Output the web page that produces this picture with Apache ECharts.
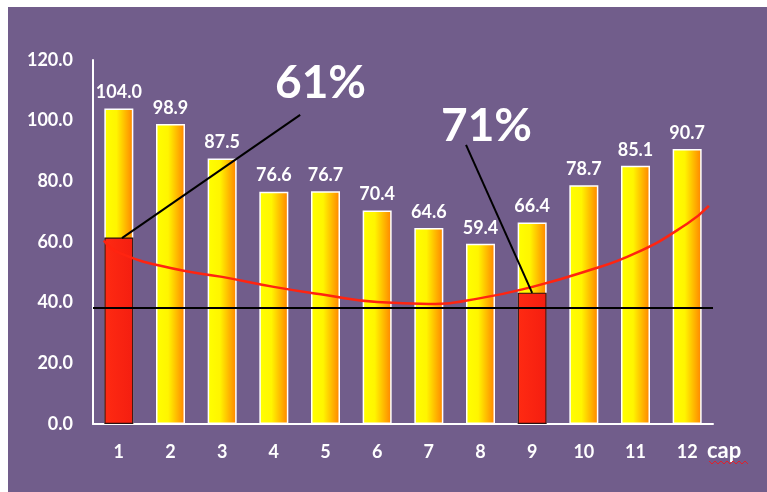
<!DOCTYPE html>
<html>
<head>
<meta charset="utf-8">
<script src="https://cdn.jsdelivr.net/npm/echarts@6/dist/echarts.min.js"></script>
<style>
  html, body { margin: 0; padding: 0; background: #ffffff; }
  #panel { position: absolute; left: 8px; top: 7px; width: 759px; height: 485px; background: #715d8b; }
  #chart { position: absolute; left: 0; top: 0; width: 767px; height: 492px; }
</style>
</head>
<body>
<div id="panel"></div>
<div id="chart"></div>
<script>
// Monthly values (months 1..12)
const months = ['1', '2', '3', '4', '5', '6', '7', '8', '9', '10', '11', '12'];
const monthValues = [104.0, 98.9, 87.5, 76.6, 76.7, 70.4, 64.6, 59.4, 66.4, 78.7, 85.1, 90.7];
// Highlighted months (1 and 9)
const highlightValues = [61.5, null, null, null, null, null, null, null, 43.3, null, null, null];
// Trend curve, x in month units
const trendX = [0.71, 1, 2, 3, 4, 5, 6, 7, 8, 9, 10, 11, 12, 12.42];
const trendY = [60.5, 56.5, 51.4, 48.5, 45.2, 42.5, 40.2, 39.6, 41.5, 45.2, 50.1, 56.3, 66.0, 71.9];
// Reference level
const baseLevel = 38.4;
// Callouts: label text and pointer from label to bar
const calloutText = ['61%', '71%'];
const calloutA = [[4.51, 101.9], [1.06, 61.3]];
const calloutB = [[7.72, 92.0], [9.0, 43.2]];
const yTicks = { min: 0, max: 120, step: 20 };

const FONT = 'Lato';
const chart = echarts.init(document.getElementById('chart'), null, { renderer: 'canvas' });

const yellowFill = new echarts.graphic.LinearGradient(0, 0, 1, 0, [
  { offset: 0, color: '#ffff00' },
  { offset: 0.42, color: '#fff500' },
  { offset: 1, color: '#ff8200' }
]);
const redFill = new echarts.graphic.LinearGradient(0, 0, 1, 0, [
  { offset: 0, color: '#ff2a12' },
  { offset: 1, color: '#f41e10' }
]);

function pairs(xs, ys) { return xs.map((x, i) => [x, ys[i]]); }

chart.setOption({
  backgroundColor: 'transparent',
  animation: false,
  grid: { left: 93, right: 54, top: 60, bottom: 68 },
  xAxis: [
    {
      type: 'category',
      data: months,
      axisLine: { show: true, lineStyle: { color: '#ffffff', width: 2 } },
      axisTick: { show: false },
      axisLabel: { color: '#ffffff', fontFamily: FONT, fontWeight: 'bold', fontSize: 18, margin: 19 },
      name: 'cap',
      nameLocation: 'end',
      nameGap: -6,
      nameTextStyle: { color: '#ffffff', fontFamily: FONT, fontWeight: 'bold', fontSize: 22,
                       verticalAlign: 'top', align: 'left', padding: [16, 0, 0, 0] }
    },
    { type: 'value', min: 0.5, max: 12.5, show: false }
  ],
  yAxis: {
    type: 'value',
    min: yTicks.min, max: yTicks.max, interval: yTicks.step,
    axisLine: { show: true, lineStyle: { color: '#ffffff', width: 2 } },
    axisTick: { show: false },
    splitLine: { show: false },
    axisLabel: { color: '#ffffff', fontFamily: FONT, fontWeight: 'bold', fontSize: 18, margin: 20,
                 formatter: v => v.toFixed(1) }
  },
  series: [
    {
      type: 'bar',
      data: monthValues,
      barWidth: 29,
      itemStyle: { color: yellowFill, borderColor: '#ffffff', borderWidth: 1.5 },
      label: { show: true, position: 'top', distance: 7, color: '#ffffff', fontFamily: FONT,
               fontWeight: 'bold', fontSize: 18, formatter: p => p.value.toFixed(1) },
      markLine: {
        silent: true, symbol: 'none', label: { show: false },
        lineStyle: { color: '#000000', width: 2, type: 'solid' },
        data: [{ yAxis: baseLevel }]
      },
      z: 2
    },
    {
      type: 'bar',
      data: highlightValues,
      barWidth: 29,
      barGap: '-100%',
      itemStyle: { color: redFill, borderColor: '#2a1010', borderWidth: 1.2 },
      z: 3
    },
    {
      type: 'line',
      xAxisIndex: 1,
      data: pairs(trendX, trendY),
      smooth: 0.5,
      symbol: 'none',
      lineStyle: { color: '#ff2410', width: 2.5 },
      z: 4
    },
    {
      type: 'line',
      xAxisIndex: 1,
      data: calloutA,
      symbol: 'none',
      lineStyle: { color: '#000000', width: 2 },
      z: 5
    },
    {
      type: 'line',
      xAxisIndex: 1,
      data: calloutB,
      symbol: 'none',
      lineStyle: { color: '#000000', width: 2 },
      z: 5
    }
  ],
  graphic: [
    { type: 'text', left: 275, top: 60, z: 10,
      style: { text: calloutText[0], fill: '#ffffff', font: 'bold 46px Lato' } },
    { type: 'text', left: 441, top: 103, z: 10,
      style: { text: calloutText[1], fill: '#ffffff', font: 'bold 46px Lato' } },
    { type: 'polyline', z: 10,
      shape: { points: [[709,461],[712,464],[715,461],[718,464],[721,461],[724,464],[727,461],[730,464],[733,461],[736,464],[739,461],[742,464],[745,461],[748,464]] },
      style: { stroke: '#e0202a', lineWidth: 1, fill: null } }
  ]
});
</script>
</body>
</html>
